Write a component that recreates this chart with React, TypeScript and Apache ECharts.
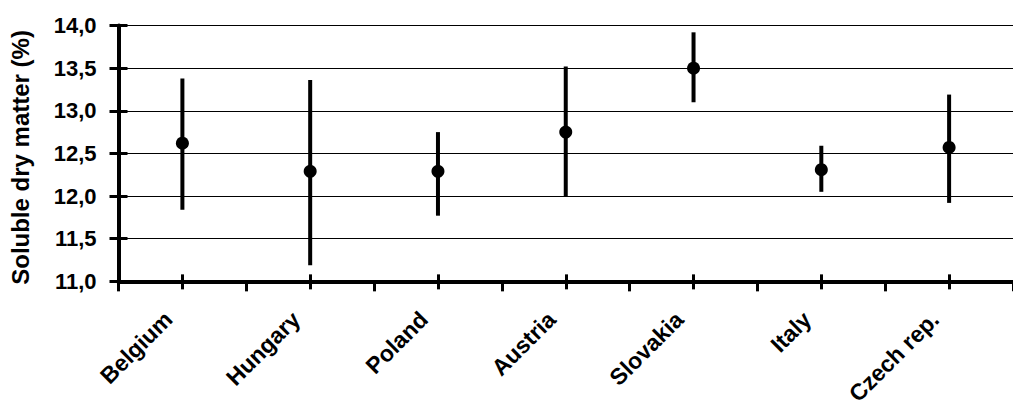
import React, { useEffect, useRef } from "react";
import * as echarts from "echarts";

const categories = ["Belgium", "Hungary", "Poland", "Austria", "Slovakia", "Italy", "Czech rep."];
const means = [12.62, 12.29, 12.29, 12.75, 13.5, 12.31, 12.57];
const upper = [13.38, 13.36, 12.75, 13.52, 13.92, 12.59, 13.19];
const lower = [11.84, 11.19, 11.77, 11.99, 13.1, 12.05, 11.92];
const yMin = 11;
const yMax = 14;
const yInterval = 0.5;

const FONT = "'Liberation Sans', Arial, sans-serif";

export default function App() {
  const ref = useRef<HTMLDivElement>(null);
  useEffect(() => {
    if (!ref.current) return;
    const chart = echarts.init(ref.current, undefined, { renderer: "svg" });
    const baseX = {
      type: "category" as const,
      data: categories,
      boundaryGap: true,
      position: "bottom" as const,
    };
    chart.setOption({
      animation: false,
      backgroundColor: "#fff",
      grid: { left: 118.5, right: -8.5, top: 25.5, bottom: 125, containLabel: false },
      xAxis: [
        {
          ...baseX,
          axisLine: { show: true, lineStyle: { color: "#000", width: 4 } },
          axisTick: { show: true, alignWithLabel: false, inside: false, length: 10, lineStyle: { color: "#000", width: 3 } },
          axisLabel: {
            show: true,
            interval: 0,
            rotate: 45,
            margin: 20,
            padding: [0, 20, 0, 0],
            color: "#000",
            fontFamily: FONT,
            fontWeight: "bold",
            fontSize: 23,
          },
          splitLine: { show: false },
        },
        {
          ...baseX,
          axisLine: { show: false },
          axisTick: { show: true, alignWithLabel: true, inside: true, length: 7, lineStyle: { color: "#000", width: 3 } },
          axisLabel: { show: false },
          splitLine: { show: false },
        },
        {
          ...baseX,
          axisLine: { show: false },
          axisTick: { show: true, alignWithLabel: true, inside: false, length: 8, lineStyle: { color: "#000", width: 3 } },
          axisLabel: { show: false },
          splitLine: { show: false },
        },
      ],
      yAxis: [
        {
          type: "value",
          position: "left",
          min: yMin,
          max: yMax,
          interval: yInterval,
          name: "Soluble dry matter (%)",
          nameLocation: "middle",
          nameGap: 86,
          nameTextStyle: { color: "#000", fontFamily: FONT, fontWeight: "bold", fontSize: 24, padding: [0, 8, 0, 0] },
          axisLine: { show: true, lineStyle: { color: "#000", width: 4 } },
          axisTick: { show: true, inside: false, length: 9, lineStyle: { color: "#000", width: 3 } },
          axisLabel: {
            show: true,
            margin: 22,
            color: "#000",
            fontFamily: FONT,
            fontWeight: "bold",
            fontSize: 22,
            formatter: (v: number) => v.toFixed(1).replace(".", ","),
          },
          splitLine: { show: true, lineStyle: { color: "#000", width: 1 } },
        },
        {
          type: "value",
          position: "left",
          min: yMin,
          max: yMax,
          interval: yInterval,
          axisLine: { show: false },
          axisTick: { show: true, inside: true, length: 9, lineStyle: { color: "#000", width: 3 } },
          axisLabel: { show: false },
          splitLine: { show: false },
        },
      ],
      series: [
        {
          type: "custom",
          xAxisIndex: 0,
          yAxisIndex: 0,
          z: 3,
          data: categories.map((_, i) => [i, lower[i], upper[i]]),
          renderItem: (params: any, api: any) => {
            const i = api.value(0);
            const p1 = api.coord([i, api.value(1)]);
            const p2 = api.coord([i, api.value(2)]);
            return {
              type: "line",
              shape: { x1: p1[0], y1: p1[1], x2: p2[0], y2: p2[1] },
              style: { stroke: "#000", lineWidth: 4 },
            };
          },
        },
        {
          type: "scatter",
          xAxisIndex: 0,
          yAxisIndex: 0,
          z: 4,
          symbol: "circle",
          symbolSize: 13,
          itemStyle: { color: "#000", opacity: 1 },
          data: means,
        },
      ],
    });
    return () => chart.dispose();
  }, []);
  return <div ref={ref} style={{ position: "fixed", left: 0, top: 0, width: 1013, height: 408 }} />;
}
